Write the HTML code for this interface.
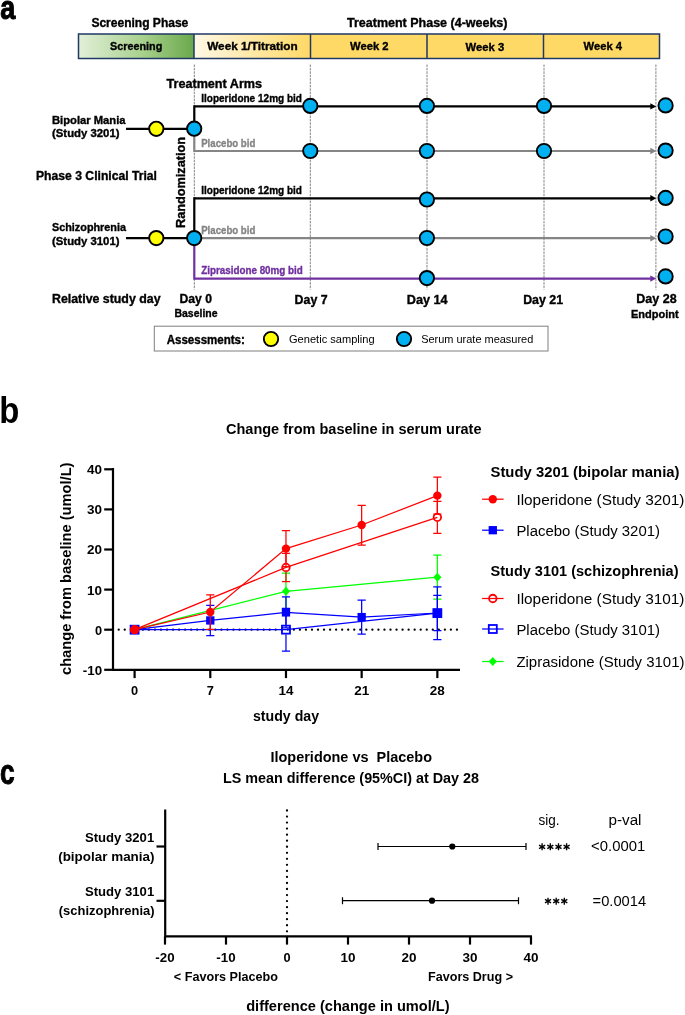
<!DOCTYPE html>
<html><head><meta charset="utf-8"><title>Figure</title>
<style>
html,body{margin:0;padding:0;background:#fff;}
body{width:685px;height:1015px;overflow:hidden;font-family:"Liberation Sans",sans-serif;}
svg{display:block;will-change:transform;font-family:"Liberation Sans",sans-serif;}
</style></head><body>
<svg width="685" height="1015" viewBox="0 0 685 1015">
<defs>
<linearGradient id="gG" x1="0" x2="1" y1="0" y2="0"><stop offset="0" stop-color="#e2f0d9"/><stop offset="0.55" stop-color="#a9d18e"/><stop offset="1" stop-color="#6aa84a"/></linearGradient>
<linearGradient id="gY" x1="0" x2="1" y1="0" y2="0"><stop offset="0" stop-color="#fff8e6"/><stop offset="1" stop-color="#ffd966"/></linearGradient>
</defs>
<rect width="685" height="1015" fill="#fff"/>

<g id="panelA">
<text x="0.24" y="19.0" font-size="33.2" font-weight="bold" fill="#000" textLength="15.1" lengthAdjust="spacingAndGlyphs" stroke="#000" stroke-width="1">a</text>
<text x="91.4" y="27" font-size="12" font-weight="bold" fill="#000" textLength="96.9" lengthAdjust="spacingAndGlyphs"  stroke="#000" stroke-width="0.35">Screening Phase</text>
<text x="347" y="27" font-size="12" font-weight="bold" fill="#000" textLength="160.5" lengthAdjust="spacingAndGlyphs"  stroke="#000" stroke-width="0.35">Treatment Phase (4-weeks)</text>
<rect x="78.5" y="34" width="115.5" height="24.5" fill="url(#gG)"/>
<rect x="194" y="34" width="116.5" height="24.5" fill="url(#gY)"/>
<rect x="310.5" y="34" width="349.0" height="24.5" fill="#ffd966"/>
<rect x="78.5" y="34" width="581.0" height="24.5" fill="none" stroke="#1f3864" stroke-width="1.5"/>
<line x1="194" y1="34" x2="194" y2="58.5" stroke="#1f3864" stroke-width="1.5" />
<line x1="310.5" y1="34" x2="310.5" y2="58.5" stroke="#1f3864" stroke-width="1.5" />
<line x1="427" y1="34" x2="427" y2="58.5" stroke="#1f3864" stroke-width="1.5" />
<line x1="543.5" y1="34" x2="543.5" y2="58.5" stroke="#1f3864" stroke-width="1.5" />
<text x="110" y="50" font-size="11" font-weight="bold" fill="#000" textLength="52.3" lengthAdjust="spacingAndGlyphs"  stroke="#000" stroke-width="0.35">Screening</text>
<text x="207.2" y="50" font-size="11" font-weight="bold" fill="#000" textLength="90.5" lengthAdjust="spacingAndGlyphs"  stroke="#000" stroke-width="0.35">Week 1/Titration</text>
<text x="350" y="49.7" font-size="11" font-weight="bold" fill="#000" textLength="38.5" lengthAdjust="spacingAndGlyphs"  stroke="#000" stroke-width="0.35">Week 2</text>
<text x="465.6" y="50.6" font-size="11" font-weight="bold" fill="#000" textLength="38.6" lengthAdjust="spacingAndGlyphs"  stroke="#000" stroke-width="0.35">Week 3</text>
<text x="583.5" y="49.5" font-size="11" font-weight="bold" fill="#000" textLength="38.5" lengthAdjust="spacingAndGlyphs"  stroke="#000" stroke-width="0.35">Week 4</text>
<line x1="194.3" y1="64.5" x2="194.3" y2="289.5" stroke="#848484" stroke-width="1" stroke-dasharray="2.5 0.9"/>
<line x1="310.3" y1="64.5" x2="310.3" y2="289.5" stroke="#848484" stroke-width="1" stroke-dasharray="2.5 0.9"/>
<line x1="427" y1="64.5" x2="427" y2="289.5" stroke="#848484" stroke-width="1" stroke-dasharray="2.5 0.9"/>
<line x1="544" y1="64.5" x2="544" y2="289.5" stroke="#848484" stroke-width="1" stroke-dasharray="2.5 0.9"/>
<line x1="655.9" y1="64.5" x2="655.9" y2="289.5" stroke="#848484" stroke-width="1" stroke-dasharray="2.5 0.9"/>
<text x="166.5" y="87.5" font-size="12" font-weight="bold" fill="#000" textLength="95.5" lengthAdjust="spacingAndGlyphs"  stroke="#000" stroke-width="0.35">Treatment Arms</text>
<line x1="126" y1="128.8" x2="194" y2="128.8" stroke="#000" stroke-width="2.2" />
<path d="M194.3,128.8 V105.30000000000001" stroke="#000" stroke-width="2.2" fill="none"/>
<path d="M194.3,128.8 V152.1" stroke="#858585" stroke-width="2.2" fill="none"/>
<line x1="194.3" y1="106.4" x2="652.3" y2="106.4" stroke="#000" stroke-width="2.2"/>
<path d="M650.3,103.2 L656.3,106.4 L650.3,109.60000000000001 Z" fill="#000"/>
<line x1="194.3" y1="151.0" x2="652.3" y2="151.0" stroke="#858585" stroke-width="2.2"/>
<path d="M650.3,147.8 L656.3,151.0 L650.3,154.2 Z" fill="#858585"/>
<line x1="126" y1="238.2" x2="194" y2="238.2" stroke="#000" stroke-width="2.2" />
<path d="M194.3,238.2 V197.20000000000002" stroke="#000" stroke-width="2.2" fill="none"/>
<path d="M194.3,238.2 V279.70000000000005" stroke="#7030a0" stroke-width="2.2" fill="none"/>
<line x1="194.3" y1="198.3" x2="652.3" y2="198.3" stroke="#000" stroke-width="2.2"/>
<path d="M650.3,195.10000000000002 L656.3,198.3 L650.3,201.5 Z" fill="#000"/>
<line x1="194.3" y1="238.2" x2="652.3" y2="238.2" stroke="#858585" stroke-width="2.2"/>
<path d="M650.3,235.0 L656.3,238.2 L650.3,241.39999999999998 Z" fill="#858585"/>
<line x1="194.3" y1="278.6" x2="652.3" y2="278.6" stroke="#7030a0" stroke-width="2.2"/>
<path d="M650.3,275.40000000000003 L656.3,278.6 L650.3,281.8 Z" fill="#7030a0"/>
<circle cx="310.3" cy="105.9" r="7.15" fill="#00b0f0" stroke="#000" stroke-width="1.9"/>
<circle cx="426.9" cy="105.9" r="7.15" fill="#00b0f0" stroke="#000" stroke-width="1.9"/>
<circle cx="544" cy="105.9" r="7.15" fill="#00b0f0" stroke="#000" stroke-width="1.9"/>
<circle cx="310.3" cy="151.0" r="7.15" fill="#00b0f0" stroke="#000" stroke-width="1.9"/>
<circle cx="426.9" cy="151.0" r="7.15" fill="#00b0f0" stroke="#000" stroke-width="1.9"/>
<circle cx="544" cy="151.0" r="7.15" fill="#00b0f0" stroke="#000" stroke-width="1.9"/>
<circle cx="426.9" cy="199.5" r="7.15" fill="#00b0f0" stroke="#000" stroke-width="1.9"/>
<circle cx="426.9" cy="238.0" r="7.15" fill="#00b0f0" stroke="#000" stroke-width="1.9"/>
<circle cx="426.9" cy="278.1" r="7.15" fill="#00b0f0" stroke="#000" stroke-width="1.9"/>
<circle cx="665.6" cy="105.4" r="7.15" fill="#00b0f0" stroke="#000" stroke-width="1.9"/>
<circle cx="665.6" cy="150.6" r="7.15" fill="#00b0f0" stroke="#000" stroke-width="1.9"/>
<circle cx="665.6" cy="197.9" r="7.15" fill="#00b0f0" stroke="#000" stroke-width="1.9"/>
<circle cx="665.6" cy="236.5" r="7.15" fill="#00b0f0" stroke="#000" stroke-width="1.9"/>
<circle cx="665.6" cy="276.4" r="7.15" fill="#00b0f0" stroke="#000" stroke-width="1.9"/>
<circle cx="156.3" cy="128.8" r="7.15" fill="#ffff00" stroke="#000" stroke-width="1.9"/>
<circle cx="194.2" cy="128.7" r="7.15" fill="#00b0f0" stroke="#000" stroke-width="1.9"/>
<circle cx="156.3" cy="238.1" r="7.15" fill="#ffff00" stroke="#000" stroke-width="1.9"/>
<circle cx="194.2" cy="238.1" r="7.15" fill="#00b0f0" stroke="#000" stroke-width="1.9"/>
<text x="201.2" y="102" font-size="10.5" font-weight="bold" fill="#000" textLength="100.8" lengthAdjust="spacingAndGlyphs"  stroke="#000" stroke-width="0.35">Iloperidone 12mg bid</text>
<text x="201.2" y="147" font-size="10.5" font-weight="bold" fill="#858585" textLength="54.1" lengthAdjust="spacingAndGlyphs"  stroke="#858585" stroke-width="0.35">Placebo bid</text>
<text x="201.2" y="193.5" font-size="10.5" font-weight="bold" fill="#000" textLength="100.8" lengthAdjust="spacingAndGlyphs"  stroke="#000" stroke-width="0.35">Iloperidone 12mg bid</text>
<text x="201.2" y="234" font-size="10.5" font-weight="bold" fill="#858585" textLength="54.1" lengthAdjust="spacingAndGlyphs"  stroke="#858585" stroke-width="0.35">Placebo bid</text>
<text x="201.2" y="274.2" font-size="10.5" font-weight="bold" fill="#7030a0" textLength="101.6" lengthAdjust="spacingAndGlyphs"  stroke="#7030a0" stroke-width="0.35">Ziprasidone 80mg bid</text>
<text x="52" y="123.5" font-size="10.5" font-weight="bold" fill="#000" textLength="73.5" lengthAdjust="spacingAndGlyphs"  stroke="#000" stroke-width="0.35">Bipolar Mania</text>
<text x="52" y="136.8" font-size="10.5" font-weight="bold" fill="#000" textLength="67.5" lengthAdjust="spacingAndGlyphs"  stroke="#000" stroke-width="0.35">(Study 3201)</text>
<text x="52" y="231" font-size="10.5" font-weight="bold" fill="#000" textLength="74" lengthAdjust="spacingAndGlyphs"  stroke="#000" stroke-width="0.35">Schizophrenia</text>
<text x="52" y="244.8" font-size="10.5" font-weight="bold" fill="#000" textLength="67.5" lengthAdjust="spacingAndGlyphs"  stroke="#000" stroke-width="0.35">(Study 3101)</text>
<text x="36" y="179.5" font-size="12" font-weight="bold" fill="#000" textLength="121" lengthAdjust="spacingAndGlyphs"  stroke="#000" stroke-width="0.35">Phase 3 Clinical Trial</text>
<text transform="translate(184.6,228) rotate(-90)" x="0" y="0" font-size="12" font-weight="bold" fill="#000" textLength="91" lengthAdjust="spacingAndGlyphs" stroke="#000" stroke-width="0.35">Randomization</text>
<text x="52" y="302.5" font-size="12.3" font-weight="bold" fill="#000" textLength="108.5" lengthAdjust="spacingAndGlyphs"  stroke="#000" stroke-width="0.35">Relative study day</text>
<text x="179.5" y="302.5" font-size="12.3" font-weight="bold" fill="#000" textLength="32.5" lengthAdjust="spacingAndGlyphs"  stroke="#000" stroke-width="0.35">Day 0</text>
<text x="174.5" y="316.5" font-size="10.5" font-weight="bold" fill="#000" textLength="43.0" lengthAdjust="spacingAndGlyphs"  stroke="#000" stroke-width="0.35">Baseline</text>
<text x="294.6" y="304" font-size="12.3" font-weight="bold" fill="#000" textLength="33.0" lengthAdjust="spacingAndGlyphs"  stroke="#000" stroke-width="0.35">Day 7</text>
<text x="406.8" y="304" font-size="12.3" font-weight="bold" fill="#000" textLength="40.8" lengthAdjust="spacingAndGlyphs"  stroke="#000" stroke-width="0.35">Day 14</text>
<text x="523.2" y="303.5" font-size="12.3" font-weight="bold" fill="#000" textLength="39.9" lengthAdjust="spacingAndGlyphs"  stroke="#000" stroke-width="0.35">Day 21</text>
<text x="636.3" y="303" font-size="12.3" font-weight="bold" fill="#000" textLength="40.3" lengthAdjust="spacingAndGlyphs"  stroke="#000" stroke-width="0.35">Day 28</text>
<text x="631" y="317.5" font-size="10.5" font-weight="bold" fill="#000" textLength="47.6" lengthAdjust="spacingAndGlyphs"  stroke="#000" stroke-width="0.35">Endpoint</text>
<rect x="154.3" y="326.2" width="393.7" height="24.8" fill="#fff" stroke="#7f7f7f" stroke-width="1"/>
<text x="166.7" y="343.7" font-size="12" font-weight="bold" fill="#000" textLength="78.1" lengthAdjust="spacingAndGlyphs"  stroke="#000" stroke-width="0.35">Assessments:</text>
<circle cx="271" cy="339" r="7.15" fill="#ffff00" stroke="#000" stroke-width="1.9"/>
<text x="289" y="343" font-size="11.5" font-weight="normal" fill="#000" textLength="85.6" lengthAdjust="spacingAndGlyphs" >Genetic sampling</text>
<circle cx="404" cy="339" r="7.15" fill="#00b0f0" stroke="#000" stroke-width="1.9"/>
<text x="421.2" y="343" font-size="11.5" font-weight="normal" fill="#000" textLength="112.1" lengthAdjust="spacingAndGlyphs" >Serum urate measured</text>
</g>
<g id="panelB">
<text x="-0.8" y="423.0" font-size="37.6" font-weight="bold" fill="#000" textLength="20.1" lengthAdjust="spacingAndGlyphs" >b</text>
<text x="226" y="433.5" font-size="14" font-weight="bold" fill="#000" textLength="255.5" lengthAdjust="spacingAndGlyphs" >Change from baseline in serum urate</text>
<line x1="118.7" y1="629.7" x2="458" y2="629.7" stroke="#000" stroke-width="2.3" stroke-linecap="round" stroke-dasharray="0 6.04"/>
<path d="M285.98,573.0 V591.3 M285.98,591.3 V609.6 M281.88,573.0 H290.08000000000004 M281.88,609.6 H290.08000000000004" stroke="#00ff00" stroke-width="1.25" fill="none"/>
<path d="M437.35,555.0 V577.2 M437.35,577.2 V599.2 M433.25,555.0 H441.45000000000005 M433.25,599.2 H441.45000000000005" stroke="#00ff00" stroke-width="1.25" fill="none"/>
<polyline fill="none" stroke="#00ff00" stroke-width="1.25" points="134.6,629.7 285.98,591.3 437.35,577.2"/>
<path d="M134.6,625.2 L138.7,629.7 L134.6,634.2 L130.5,629.7 Z" fill="#00ff00"/>
<path d="M285.98,586.8 L290.08000000000004,591.3 L285.98,595.8 L281.88,591.3 Z" fill="#00ff00"/>
<path d="M437.35,572.7 L441.45000000000005,577.2 L437.35,581.7 L433.25,577.2 Z" fill="#00ff00"/>
<path d="M285.98,608.3 V624.75 M285.98,634.55 V651.0 M281.88,608.3 H290.08000000000004 M281.88,651.0 H290.08000000000004" stroke="#0000ff" stroke-width="1.25" fill="none"/>
<path d="M437.35,586.8 V608.2 M437.35,618.0 V639.5 M433.25,586.8 H441.45000000000005 M433.25,639.5 H441.45000000000005" stroke="#0000ff" stroke-width="1.25" fill="none"/>
<polyline fill="none" stroke="#0000ff" stroke-width="1.25" points="134.6,629.7 285.98,629.65 437.35,613.1"/>
<rect x="130.6" y="625.7" width="8.0" height="8.0" fill="none" stroke="#0000ff" stroke-width="1.8"/>
<rect x="281.98" y="625.65" width="8.0" height="8.0" fill="none" stroke="#0000ff" stroke-width="1.8"/>
<rect x="433.35" y="609.1" width="8.0" height="8.0" fill="none" stroke="#0000ff" stroke-width="1.8"/>
<path d="M210.29,605.4 V620.45 M210.29,620.45 V635.5 M206.19,605.4 H214.39 M206.19,635.5 H214.39" stroke="#0000ff" stroke-width="1.25" fill="none"/>
<path d="M285.98,596.9 V612.4 M285.98,612.4 V627.9 M281.88,596.9 H290.08000000000004 M281.88,627.9 H290.08000000000004" stroke="#0000ff" stroke-width="1.25" fill="none"/>
<path d="M361.66,600.0 V617.1 M361.66,617.1 V634.0 M357.56,600.0 H365.76000000000005 M357.56,634.0 H365.76000000000005" stroke="#0000ff" stroke-width="1.25" fill="none"/>
<path d="M437.35,595.4 V613.0 M437.35,613.0 V630.5 M433.25,595.4 H441.45000000000005 M433.25,630.5 H441.45000000000005" stroke="#0000ff" stroke-width="1.25" fill="none"/>
<polyline fill="none" stroke="#0000ff" stroke-width="1.25" points="134.6,629.7 210.29,620.45 285.98,612.4 361.66,617.1 437.35,613.0"/>
<rect x="130.45" y="625.5500000000001" width="8.3" height="8.3" fill="#0000ff"/>
<rect x="206.14" y="616.3000000000001" width="8.3" height="8.3" fill="#0000ff"/>
<rect x="281.83000000000004" y="608.25" width="8.3" height="8.3" fill="#0000ff"/>
<rect x="357.51000000000005" y="612.95" width="8.3" height="8.3" fill="#0000ff"/>
<rect x="433.20000000000005" y="608.85" width="8.3" height="8.3" fill="#0000ff"/>
<path d="M285.98,553.4 V562.85 M285.98,572.0500000000001 V581.6 M281.88,553.4 H290.08000000000004 M281.88,581.6 H290.08000000000004" stroke="#ff0000" stroke-width="1.25" fill="none"/>
<path d="M437.35,501.4 V512.6999999999999 M437.35,521.9 V533.3 M433.25,501.4 H441.45000000000005 M433.25,533.3 H441.45000000000005" stroke="#ff0000" stroke-width="1.25" fill="none"/>
<polyline fill="none" stroke="#ff0000" stroke-width="1.25" points="134.6,629.7 285.98,567.45 437.35,517.3"/>
<circle cx="134.6" cy="629.7" r="3.75" fill="none" stroke="#ff0000" stroke-width="1.8"/>
<circle cx="285.98" cy="567.45" r="3.75" fill="none" stroke="#ff0000" stroke-width="1.8"/>
<circle cx="437.35" cy="517.3" r="3.75" fill="none" stroke="#ff0000" stroke-width="1.8"/>
<path d="M210.29,594.8 V612.05 M210.29,612.05 V629.3 M206.19,594.8 H214.39 M206.19,629.3 H214.39" stroke="#ff0000" stroke-width="1.25" fill="none"/>
<path d="M285.98,530.5 V548.6 M285.98,548.6 V566.7 M281.88,530.5 H290.08000000000004 M281.88,566.7 H290.08000000000004" stroke="#ff0000" stroke-width="1.25" fill="none"/>
<path d="M361.66,505.3 V525.0 M361.66,525.0 V545.2 M357.56,505.3 H365.76000000000005 M357.56,545.2 H365.76000000000005" stroke="#ff0000" stroke-width="1.25" fill="none"/>
<path d="M437.35,477.0 V495.6 M437.35,495.6 V514.2 M433.25,477.0 H441.45000000000005 M433.25,514.2 H441.45000000000005" stroke="#ff0000" stroke-width="1.25" fill="none"/>
<polyline fill="none" stroke="#ff0000" stroke-width="1.25" points="134.6,629.7 210.29,612.05 285.98,548.6 361.66,525.0 437.35,495.6"/>
<circle cx="134.6" cy="629.7" r="4.2" fill="#ff0000"/>
<circle cx="210.29" cy="612.05" r="4.2" fill="#ff0000"/>
<circle cx="285.98" cy="548.6" r="4.2" fill="#ff0000"/>
<circle cx="361.66" cy="525.0" r="4.2" fill="#ff0000"/>
<circle cx="437.35" cy="495.6" r="4.2" fill="#ff0000"/>
<path d="M113.0,468 V669.8 H460" stroke="#000" stroke-width="2.2" fill="none"/>
<line x1="104.2" y1="469.3" x2="113.0" y2="469.3" stroke="#000" stroke-width="2.2" />
<text x="87.1" y="474.2" font-size="13" font-weight="bold" fill="#000" textLength="15.0" lengthAdjust="spacingAndGlyphs" >40</text>
<line x1="104.2" y1="509.4" x2="113.0" y2="509.4" stroke="#000" stroke-width="2.2" />
<text x="87.1" y="514.3" font-size="13" font-weight="bold" fill="#000" textLength="15.0" lengthAdjust="spacingAndGlyphs" >30</text>
<line x1="104.2" y1="549.5" x2="113.0" y2="549.5" stroke="#000" stroke-width="2.2" />
<text x="87.1" y="554.4" font-size="13" font-weight="bold" fill="#000" textLength="15.0" lengthAdjust="spacingAndGlyphs" >20</text>
<line x1="104.2" y1="589.6" x2="113.0" y2="589.6" stroke="#000" stroke-width="2.2" />
<text x="87.1" y="594.5" font-size="13" font-weight="bold" fill="#000" textLength="15.0" lengthAdjust="spacingAndGlyphs" >10</text>
<line x1="104.2" y1="629.7" x2="113.0" y2="629.7" stroke="#000" stroke-width="2.2" />
<text x="95.0" y="634.6" font-size="13" font-weight="bold" fill="#000" textLength="7.1" lengthAdjust="spacingAndGlyphs" >0</text>
<line x1="104.2" y1="669.8" x2="113.0" y2="669.8" stroke="#000" stroke-width="2.2" />
<text x="82.8" y="674.7" font-size="13" font-weight="bold" fill="#000" textLength="19.3" lengthAdjust="spacingAndGlyphs" >-10</text>
<line x1="134.6" y1="669.8" x2="134.6" y2="678.1" stroke="#000" stroke-width="2.2" />
<text x="131.05" y="695.4" font-size="13" font-weight="bold" fill="#000" textLength="7.1" lengthAdjust="spacingAndGlyphs" >0</text>
<line x1="210.29" y1="669.8" x2="210.29" y2="678.1" stroke="#000" stroke-width="2.2" />
<text x="206.74" y="695.4" font-size="13" font-weight="bold" fill="#000" textLength="7.1" lengthAdjust="spacingAndGlyphs" >7</text>
<line x1="285.98" y1="669.8" x2="285.98" y2="678.1" stroke="#000" stroke-width="2.2" />
<text x="278.48" y="695.4" font-size="13" font-weight="bold" fill="#000" textLength="15.0" lengthAdjust="spacingAndGlyphs" >14</text>
<line x1="361.66" y1="669.8" x2="361.66" y2="678.1" stroke="#000" stroke-width="2.2" />
<text x="354.16" y="695.4" font-size="13" font-weight="bold" fill="#000" textLength="15.0" lengthAdjust="spacingAndGlyphs" >21</text>
<line x1="437.35" y1="669.8" x2="437.35" y2="678.1" stroke="#000" stroke-width="2.2" />
<text x="429.85" y="695.4" font-size="13" font-weight="bold" fill="#000" textLength="15.0" lengthAdjust="spacingAndGlyphs" >28</text>
<text transform="translate(71,675) rotate(-90)" x="0" y="0" font-size="14" font-weight="bold" fill="#000" textLength="212.5" lengthAdjust="spacingAndGlyphs">change from baseline (umol/L)</text>
<text x="253" y="720.6" font-size="14" font-weight="bold" fill="#000" textLength="66" lengthAdjust="spacingAndGlyphs" >study day</text>
<text x="490.5" y="477" font-size="14" font-weight="bold" fill="#000" textLength="189.0" lengthAdjust="spacingAndGlyphs" >Study 3201 (bipolar mania)</text>
<text x="490.5" y="576" font-size="14" font-weight="bold" fill="#000" textLength="188.0" lengthAdjust="spacingAndGlyphs" >Study 3101 (schizophrenia)</text>
<line x1="482.1" y1="499.2" x2="503.6" y2="499.2" stroke="#ff0000" stroke-width="1.25" />
<circle cx="492.8" cy="499.2" r="4.2" fill="#ff0000"/>
<text x="516.4" y="504.8" font-size="14" font-weight="normal" fill="#000" textLength="168.1" lengthAdjust="spacingAndGlyphs" >Iloperidone (Study 3201)</text>
<line x1="482.1" y1="530.2" x2="503.6" y2="530.2" stroke="#0000ff" stroke-width="1.25" />
<rect x="488.65000000000003" y="526.0500000000001" width="8.3" height="8.3" fill="#0000ff"/>
<text x="516.4" y="535.8" font-size="14" font-weight="normal" fill="#000" textLength="143.6" lengthAdjust="spacingAndGlyphs" >Placebo (Study 3201)</text>
<line x1="482.1" y1="598.5" x2="503.6" y2="598.5" stroke="#ff0000" stroke-width="1.25" />
<circle cx="492.8" cy="598.5" r="3.75" fill="none" stroke="#ff0000" stroke-width="1.8"/>
<text x="516.4" y="604.1" font-size="14" font-weight="normal" fill="#000" textLength="168.1" lengthAdjust="spacingAndGlyphs" >Iloperidone (Study 3101)</text>
<line x1="482.1" y1="629" x2="503.6" y2="629" stroke="#0000ff" stroke-width="1.25" />
<rect x="488.8" y="625.0" width="8.0" height="8.0" fill="none" stroke="#0000ff" stroke-width="1.8"/>
<text x="516.4" y="634.6" font-size="14" font-weight="normal" fill="#000" textLength="143.6" lengthAdjust="spacingAndGlyphs" >Placebo (Study 3101)</text>
<line x1="482.1" y1="661.5" x2="503.6" y2="661.5" stroke="#00ff00" stroke-width="1.25" />
<path d="M492.8,657.0 L496.90000000000003,661.5 L492.8,666.0 L488.7,661.5 Z" fill="#00ff00"/>
<text x="516.4" y="667.1" font-size="14" font-weight="normal" fill="#000" textLength="168.1" lengthAdjust="spacingAndGlyphs" >Ziprasidone (Study 3101)</text>
</g>
<g id="panelC">
<text x="-0.12" y="783.85" font-size="35" font-weight="bold" fill="#000" textLength="14.6" lengthAdjust="spacingAndGlyphs" stroke="#000" stroke-width="1">c</text>
<text x="270.5" y="761.5" font-size="14" font-weight="bold" fill="#000" textLength="161.5" lengthAdjust="spacingAndGlyphs" >Iloperidone vs&#160;&#160;Placebo</text>
<text x="223" y="782.5" font-size="14" font-weight="bold" fill="#000" textLength="256" lengthAdjust="spacingAndGlyphs" >LS mean difference (95%CI) at Day 28</text>
<line x1="287.0" y1="810.5" x2="287.0" y2="932" stroke="#000" stroke-width="2.3" stroke-linecap="round" stroke-dasharray="0 6.04"/>
<path d="M165.2,809.5 V936.4 H532" stroke="#000" stroke-width="2.2" fill="none"/>
<line x1="165.0" y1="936.4" x2="165.0" y2="944.6" stroke="#000" stroke-width="2.2" />
<text x="155.35" y="962.4" font-size="13" font-weight="bold" fill="#000" textLength="19.3" lengthAdjust="spacingAndGlyphs" >-20</text>
<line x1="226.0" y1="936.4" x2="226.0" y2="944.6" stroke="#000" stroke-width="2.2" />
<text x="216.35" y="962.4" font-size="13" font-weight="bold" fill="#000" textLength="19.3" lengthAdjust="spacingAndGlyphs" >-10</text>
<line x1="287.0" y1="936.4" x2="287.0" y2="944.6" stroke="#000" stroke-width="2.2" />
<text x="283.45" y="962.4" font-size="13" font-weight="bold" fill="#000" textLength="7.1" lengthAdjust="spacingAndGlyphs" >0</text>
<line x1="348.0" y1="936.4" x2="348.0" y2="944.6" stroke="#000" stroke-width="2.2" />
<text x="340.5" y="962.4" font-size="13" font-weight="bold" fill="#000" textLength="15.0" lengthAdjust="spacingAndGlyphs" >10</text>
<line x1="409.0" y1="936.4" x2="409.0" y2="944.6" stroke="#000" stroke-width="2.2" />
<text x="401.5" y="962.4" font-size="13" font-weight="bold" fill="#000" textLength="15.0" lengthAdjust="spacingAndGlyphs" >20</text>
<line x1="470.0" y1="936.4" x2="470.0" y2="944.6" stroke="#000" stroke-width="2.2" />
<text x="462.5" y="962.4" font-size="13" font-weight="bold" fill="#000" textLength="15.0" lengthAdjust="spacingAndGlyphs" >30</text>
<line x1="531.0" y1="936.4" x2="531.0" y2="944.6" stroke="#000" stroke-width="2.2" />
<text x="523.5" y="962.4" font-size="13" font-weight="bold" fill="#000" textLength="15.0" lengthAdjust="spacingAndGlyphs" >40</text>
<line x1="156.5" y1="846.5" x2="165.2" y2="846.5" stroke="#000" stroke-width="2.2" />
<line x1="156.5" y1="900.8" x2="165.2" y2="900.8" stroke="#000" stroke-width="2.2" />
<text x="85" y="842.2" font-size="13.5" font-weight="bold" fill="#000" textLength="69.2" lengthAdjust="spacingAndGlyphs" >Study 3201</text>
<text x="58.2" y="860.8" font-size="13.5" font-weight="bold" fill="#000" textLength="96.3" lengthAdjust="spacingAndGlyphs" >(bipolar mania)</text>
<text x="85" y="896.4" font-size="13.5" font-weight="bold" fill="#000" textLength="69.2" lengthAdjust="spacingAndGlyphs" >Study 3101</text>
<text x="58.8" y="914.8" font-size="13.5" font-weight="bold" fill="#000" textLength="95.7" lengthAdjust="spacingAndGlyphs" >(schizophrenia)</text>
<path d="M378,846.5 H526 M378,843.0 V850.0 M526,843.0 V850.0" stroke="#000" stroke-width="1.2" fill="none"/>
<circle cx="452.3" cy="846.5" r="3.1" fill="#000"/>
<path d="M342.5,900.7 H518.5 M342.5,897.2 V904.2 M518.5,897.2 V904.2" stroke="#000" stroke-width="1.2" fill="none"/>
<circle cx="432" cy="900.7" r="3.1" fill="#000"/>
<text x="173.8" y="980.5" font-size="13" font-weight="bold" fill="#000" textLength="104.2" lengthAdjust="spacingAndGlyphs" >&lt; Favors Placebo</text>
<text x="428" y="980.5" font-size="13" font-weight="bold" fill="#000" textLength="85" lengthAdjust="spacingAndGlyphs" >Favors Drug &gt;</text>
<text x="246.2" y="1011" font-size="14" font-weight="bold" fill="#000" textLength="203.4" lengthAdjust="spacingAndGlyphs" >difference (change in umol/L)</text>
<text x="538.5" y="824.5" font-size="14" font-weight="normal" fill="#000" textLength="21.0" lengthAdjust="spacingAndGlyphs" >sig.</text>
<text x="608.5" y="824.5" font-size="14" font-weight="normal" fill="#000" textLength="33.0" lengthAdjust="spacingAndGlyphs" >p-val</text>
<path d="M542.10,843.30 L542.10,850.30 M539.07,845.05 L545.13,848.55 M545.13,845.05 L539.07,848.55 " stroke="#000" stroke-width="1.35" fill="none"/>
<path d="M550.30,843.30 L550.30,850.30 M547.27,845.05 L553.33,848.55 M553.33,845.05 L547.27,848.55 " stroke="#000" stroke-width="1.35" fill="none"/>
<path d="M558.50,843.30 L558.50,850.30 M555.47,845.05 L561.53,848.55 M561.53,845.05 L555.47,848.55 " stroke="#000" stroke-width="1.35" fill="none"/>
<path d="M566.60,843.30 L566.60,850.30 M563.57,845.05 L569.63,848.55 M569.63,845.05 L563.57,848.55 " stroke="#000" stroke-width="1.35" fill="none"/>
<path d="M548.00,897.70 L548.00,904.70 M544.97,899.45 L551.03,902.95 M551.03,899.45 L544.97,902.95 " stroke="#000" stroke-width="1.35" fill="none"/>
<path d="M556.20,897.70 L556.20,904.70 M553.17,899.45 L559.23,902.95 M559.23,899.45 L553.17,902.95 " stroke="#000" stroke-width="1.35" fill="none"/>
<path d="M564.30,897.70 L564.30,904.70 M561.27,899.45 L567.33,902.95 M567.33,899.45 L561.27,902.95 " stroke="#000" stroke-width="1.35" fill="none"/>
<text x="591.1" y="850.5" font-size="13.8" font-weight="normal" fill="#000" textLength="54.1" lengthAdjust="spacingAndGlyphs" >&lt;0.0001</text>
<text x="592.6" y="906.3" font-size="13.8" font-weight="normal" fill="#000" textLength="53.5" lengthAdjust="spacingAndGlyphs" >=0.0014</text>
</g>
</svg></body></html>
